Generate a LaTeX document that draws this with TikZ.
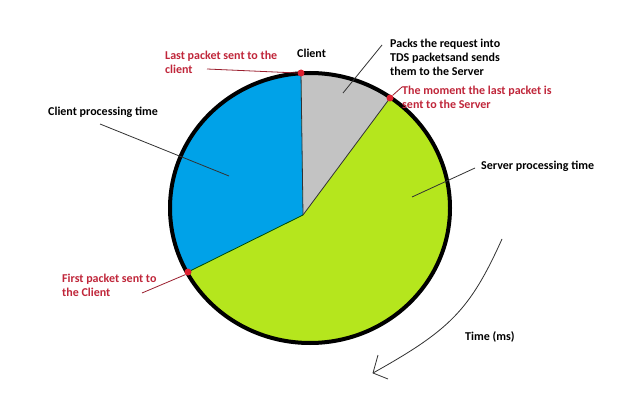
\documentclass[tikz,border=0pt]{standalone}
\usepackage{fontspec}
\setmainfont{Carlito}
\definecolor{pieblue}{RGB}{0,162,232}
\definecolor{piegreen}{RGB}{181,230,29}
\definecolor{piegrey}{RGB}{195,195,195}
\definecolor{dotred}{RGB}{222,32,48}
\definecolor{txtred}{RGB}{192,38,58}
\definecolor{leadgrey}{RGB}{50,50,50}
\begin{document}
\begin{tikzpicture}[x=1pt,y=-1pt,
  lbl/.style={font=\bfseries\fontsize{12}{14.2}\selectfont, inner sep=0pt, align=left, anchor=west},
  redlbl/.style={lbl, text=txtred},
  leader/.style={draw=leadgrey, line width=0.8pt},
  redleader/.style={draw=txtred!80!black, line width=0.8pt},
  dot/.style={circle, fill=dotred, inner sep=0pt, minimum size=7pt},
]
\useasboundingbox (0,0) rectangle (624,401);
\fill[white] (0,0) rectangle (624,401);
% pie
\coordinate (C) at (303,215);
\coordinate (E) at (310,208);
\begin{scope}
  \clip (E) ellipse [x radius=140, y radius=135];
  \fill[piegreen] (0,0) rectangle (624,401);
  \fill[piegrey] (C) -- (299,-69) -- (477,-19) -- cycle;
  \fill[pieblue] (C) -- (-42,386) -- (-42,-69) -- (299,-69) -- cycle;
\end{scope}
\coordinate (Ptop) at (301,73);
\coordinate (Pright) at (390,98);
\coordinate (Pleft) at (188,272);
\draw[leadgrey, line width=0.8pt] (C) -- (Ptop);
\draw[leadgrey, line width=0.8pt] (C) -- (Pright);
\draw[black!70!green, line width=0.8pt] (C) -- (Pleft);
\draw[black, line width=4pt] (E) ellipse [x radius=140, y radius=135];
\node[dot] (dtop) at (Ptop) {};
\node[dot] (dright) at (Pright) {};
\node[dot] (dleft) at (Pleft) {};
% labels
\node[lbl] (client) at (297,53) {Client};
\node[redlbl] (lastpk) at (165,62) {Last packet sent to the\\client};
\node[lbl] (packs) at (390,57.5) {Packs the request into\\TDS packetsand sends\\them to the Server};
\node[redlbl] (moment) at (402,97) {The moment the last packet is\\sent to the Server};
\node[lbl] (cpt) at (48,112) {Client processing time};
\node[lbl] (spt) at (481,166) {Server processing time};
\node[redlbl] (first) at (62,285) {First packet sent to\\the Client};
\node[lbl] (time) at (465,337) {Time (ms)};
% leaders
\coordinate (lastA) at (207,69);
\draw[redleader] (lastA) -- (dtop.west);
\coordinate (packA) at (382,45);
\coordinate (packB) at (343,93);
\draw[leader] (packA) -- (packB);
\coordinate (momA) at (402,87);
\draw[redleader] (momA) -- (dright.north east);
\coordinate (cptA) at (100,124);
\coordinate (cptB) at (229,176);
\draw[leader] (cptA) -- (cptB);
\coordinate (sptA) at (475,168);
\coordinate (sptB) at (412,197);
\draw[leader] (sptA) -- (sptB);
\coordinate (firstA) at (142,293);
\draw[redleader] (firstA) -- (dleft.south west);
% time arrow
\coordinate (tA) at (502,239);
\coordinate (tB) at (373,373);
\coordinate (h1) at (378,355);
\coordinate (h2) at (388,379);
\draw[leadgrey, line width=0.8pt] (tA) .. controls (470,310) and (450,330) .. (tB);
\draw[leadgrey, line width=0.8pt] (h1) -- (tB) -- (h2);
\end{tikzpicture}
\end{document}
